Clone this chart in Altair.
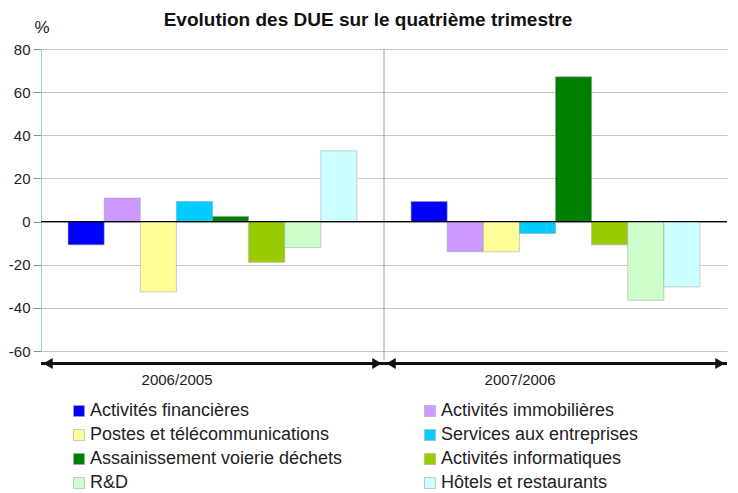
import altair as alt
import pandas as pd

periodes = ["2006/2005", "2007/2006"]
secteurs = [
    "Activités financières",
    "Activités immobilières",
    "Postes et télécommunications",
    "Services aux entreprises",
    "Assainissement voierie déchets",
    "Activités informatiques",
    "R&D",
    "Hôtels et restaurants",
]
couleurs = ["#0000FF", "#CC99FF", "#FFFF99", "#00CCFF",
            "#008000", "#99CC00", "#CCFFCC", "#CCFFFF"]
valeurs_2006_2005 = [-10.8, 10.9, -32.6, 9.3, 2.4, -18.9, -12.0, 32.8]
valeurs_2007_2006 = [9.3, -14.0, -14.0, -5.5, 67.1, -10.8, -36.5, -30.3]

rows = []
for p, vals in zip(periodes, [valeurs_2006_2005, valeurs_2007_2006]):
    for s, v in zip(secteurs, vals):
        rows.append({"periode": p, "secteur": s, "valeur": v})
df = pd.DataFrame(rows)

W, H = 686, 302
FONT = "Liberation Sans"

xscale = alt.Scale(domain=periodes, paddingInner=0, paddingOuter=0)
yscale = alt.Scale(domain=[-60, 80], nice=False)

bars = alt.Chart(df).mark_bar(stroke="#9a9a9a", strokeWidth=0.8, strokeOpacity=0.6).encode(
    x=alt.X("periode:N", scale=xscale, sort=periodes,
            axis=alt.Axis(title=None, domain=False, ticks=False, grid=False,
                          labelAngle=0, labelFontSize=15, labelPadding=28,
                          labelColor="#222", labelFont=FONT)),
    xOffset=alt.XOffset("secteur:N", sort=secteurs,
                        scale=alt.Scale(paddingOuter=0.75, paddingInner=0)),
    y=alt.Y("valeur:Q", scale=yscale,
            axis=alt.Axis(values=[-60, -40, -20, 0, 20, 40, 60, 80],
                          labelExpr="'' + datum.value",
                          title="%", titleAngle=0, titleAlign="left",
                          titleBaseline="alphabetic", titleX=-7, titleY=-17,
                          titleFontSize=17, titleFontWeight="normal",
                          titleFont=FONT, titleColor="#222",
                          labelFontSize=15, labelFont=FONT, labelColor="#222",
                          tickColor="#8a8a8a", tickSize=8,
                          domainColor="#9fd0d8", gridColor="#c8c8c8",
                          labelPadding=3)),
    color=alt.Color("secteur:N", sort=secteurs,
                    scale=alt.Scale(domain=secteurs, range=couleurs),
                    legend=alt.Legend(title=None, orient="none", legendX=29, legendY=353,
                                      direction="horizontal",
                                      columns=2, columnPadding=78, rowPadding=6,
                                      symbolType="square", symbolSize=121,
                                      symbolStrokeColor="#aaaaaa", symbolStrokeWidth=0.6,
                                      labelFontSize=18, labelFont=FONT, labelColor="#222",
                                      labelOffset=2, labelLimit=400)),
)

zero = alt.Chart(pd.DataFrame({"z": [0]})).mark_rule(color="#000000", strokeWidth=1.2).encode(
    y=alt.Y("z:Q", scale=yscale)
)

div_df = pd.DataFrame({"periode": periodes[1:]})
divider = alt.Chart(div_df).mark_rule(color="#a0a0a0", strokeWidth=1).encode(
    x=alt.X("periode:N", scale=xscale, bandPosition=0),
    y=alt.value(0), y2=alt.value(H + 9),
)

arr_df = pd.DataFrame({"periode": periodes})
shaft = alt.Chart(arr_df).mark_bar(color="#111111").encode(
    x=alt.X("periode:N", scale=xscale),
    y=alt.value(H + 11), y2=alt.value(H + 14),
)
head_l = alt.Chart(arr_df).mark_point(shape="triangle-left", filled=True, color="#111111",
                                      opacity=1, size=120, xOffset=7).encode(
    x=alt.X("periode:N", scale=xscale, bandPosition=0),
    y=alt.value(H + 12.5),
)
head_r = alt.Chart(arr_df).mark_point(shape="triangle-right", filled=True, color="#111111",
                                      opacity=1, size=120, xOffset=-7).encode(
    x=alt.X("periode:N", scale=xscale, bandPosition=1),
    y=alt.value(H + 12.5),
)

chart = alt.layer(divider, bars, zero, shaft, head_l, head_r).properties(
    width=W, height=H,
    padding={"left": 0, "top": 3, "right": 0, "bottom": 0},
    title=alt.TitleParams("Evolution des DUE sur le quatrième trimestre",
                          font=FONT, fontSize=19, fontWeight="bold", color="#111",
                          anchor="middle", frame="bounds", offset=-12),
).configure_view(stroke=None)

chart.save("out.html", embed_options={"renderer": "svg", "actions": False})
